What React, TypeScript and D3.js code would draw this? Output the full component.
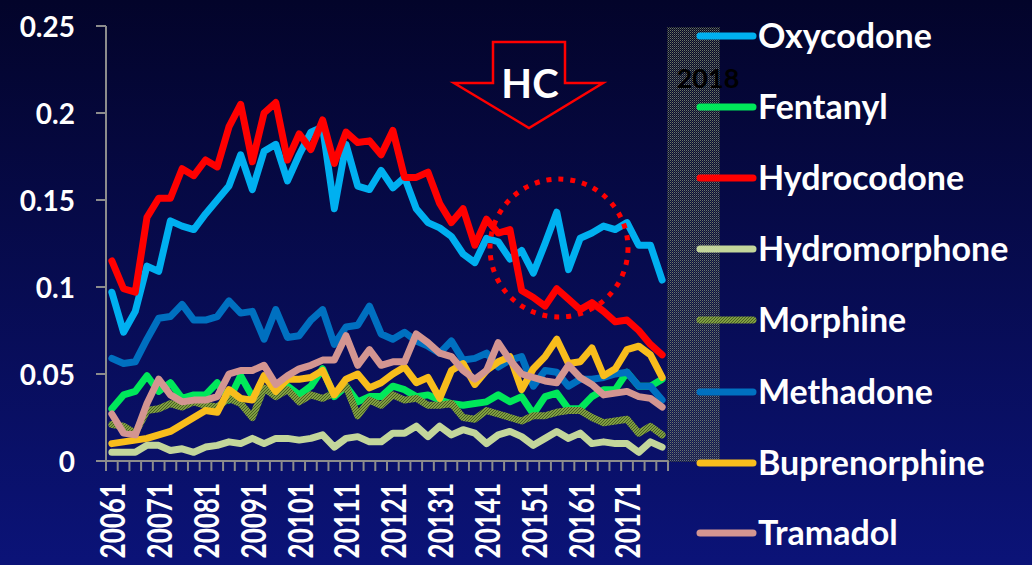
import React from "react";
import * as d3 from "d3";

const YEARS = ["2006", "2007", "2008", "2009", "2010", "2011", "2012", "2013", "2014", "2015", "2016", "2017"];
const QUARTERS = ["1", "2", "3", "4"];
const CATEGORIES: string[] = YEARS.flatMap((y) => QUARTERS.map((q) => y + q));
const Y_TICKS = [0, 0.05, 0.1, 0.15, 0.2, 0.25];
const Y_TICK_LABELS = ["0", "0.05", "0.1", "0.15", "0.2", "0.25"];

const oxycodone = [0.097, 0.074, 0.086, 0.112, 0.109, 0.138, 0.135, 0.133, 0.142, 0.150, 0.158, 0.176, 0.156, 0.178, 0.182, 0.161, 0.176, 0.189, 0.192, 0.145, 0.182, 0.158, 0.156, 0.167, 0.157, 0.163, 0.145, 0.137, 0.134, 0.129, 0.119, 0.114, 0.128, 0.126, 0.116, 0.121, 0.108, 0.125, 0.143, 0.110, 0.128, 0.131, 0.135, 0.133, 0.137, 0.124, 0.124, 0.104];
const fentanyl = [0.030, 0.038, 0.040, 0.049, 0.040, 0.045, 0.036, 0.038, 0.038, 0.045, 0.035, 0.049, 0.037, 0.041, 0.039, 0.043, 0.038, 0.043, 0.053, 0.037, 0.043, 0.034, 0.037, 0.037, 0.043, 0.041, 0.037, 0.038, 0.035, 0.033, 0.032, 0.033, 0.034, 0.038, 0.034, 0.037, 0.027, 0.037, 0.039, 0.030, 0.030, 0.037, 0.041, 0.041, 0.051, 0.043, 0.043, 0.047];
const hydrocodone = [0.115, 0.099, 0.097, 0.140, 0.151, 0.151, 0.168, 0.164, 0.173, 0.169, 0.192, 0.205, 0.172, 0.200, 0.206, 0.173, 0.188, 0.179, 0.196, 0.171, 0.189, 0.183, 0.184, 0.176, 0.190, 0.163, 0.163, 0.166, 0.148, 0.137, 0.145, 0.124, 0.139, 0.131, 0.133, 0.098, 0.094, 0.089, 0.099, 0.093, 0.087, 0.091, 0.086, 0.080, 0.081, 0.075, 0.067, 0.061];
const hydromorphone = [0.005, 0.005, 0.005, 0.009, 0.009, 0.006, 0.007, 0.005, 0.008, 0.009, 0.011, 0.010, 0.013, 0.010, 0.013, 0.013, 0.012, 0.013, 0.015, 0.008, 0.013, 0.014, 0.011, 0.011, 0.016, 0.016, 0.020, 0.014, 0.020, 0.015, 0.018, 0.016, 0.010, 0.015, 0.017, 0.014, 0.009, 0.013, 0.017, 0.013, 0.016, 0.010, 0.011, 0.010, 0.010, 0.005, 0.011, 0.008];
const morphine = [0.021, 0.020, 0.016, 0.029, 0.030, 0.033, 0.031, 0.034, 0.032, 0.031, 0.036, 0.033, 0.025, 0.042, 0.037, 0.041, 0.034, 0.038, 0.036, 0.039, 0.043, 0.026, 0.035, 0.032, 0.038, 0.035, 0.036, 0.032, 0.032, 0.033, 0.025, 0.024, 0.029, 0.027, 0.025, 0.023, 0.026, 0.026, 0.028, 0.029, 0.029, 0.025, 0.022, 0.023, 0.024, 0.016, 0.020, 0.015];
const methadone = [0.059, 0.056, 0.057, 0.070, 0.082, 0.083, 0.090, 0.081, 0.081, 0.083, 0.092, 0.085, 0.086, 0.070, 0.087, 0.071, 0.072, 0.081, 0.087, 0.067, 0.077, 0.078, 0.089, 0.073, 0.070, 0.074, 0.069, 0.066, 0.062, 0.069, 0.058, 0.059, 0.062, 0.054, 0.058, 0.060, 0.043, 0.052, 0.051, 0.043, 0.047, 0.047, 0.048, 0.050, 0.051, 0.043, 0.043, 0.035];
const buprenorphine = [0.010, 0.011, 0.012, 0.013, 0.015, 0.017, 0.021, 0.025, 0.029, 0.028, 0.041, 0.036, 0.035, 0.049, 0.040, 0.047, 0.047, 0.048, 0.052, 0.038, 0.047, 0.050, 0.042, 0.045, 0.050, 0.054, 0.045, 0.048, 0.036, 0.052, 0.056, 0.044, 0.052, 0.057, 0.060, 0.041, 0.053, 0.060, 0.070, 0.056, 0.057, 0.065, 0.049, 0.053, 0.064, 0.066, 0.061, 0.048];
const tramadol = [0.027, 0.016, 0.015, 0.033, 0.047, 0.038, 0.034, 0.035, 0.035, 0.037, 0.050, 0.052, 0.052, 0.055, 0.044, 0.049, 0.053, 0.055, 0.058, 0.058, 0.072, 0.055, 0.064, 0.055, 0.057, 0.057, 0.073, 0.068, 0.062, 0.060, 0.052, 0.047, 0.052, 0.068, 0.058, 0.050, 0.048, 0.046, 0.045, 0.055, 0.048, 0.044, 0.038, 0.039, 0.040, 0.037, 0.036, 0.031];

const SERIES_NAMES = ["Oxycodone", "Fentanyl", "Hydrocodone", "Hydromorphone", "Morphine", "Methadone", "Buprenorphine", "Tramadol"];
const SERIES_VALUES = [oxycodone, fentanyl, hydrocodone, hydromorphone, morphine, methadone, buprenorphine, tramadol];
const SERIES_COLORS = ["#00b0f0", "#00e85a", "#ff0000", "#c3d69b", "url(#morphPat)", "#0070c0", "#f8bd1c", "#d39591"];

const W = 1032;
const H = 565;
const FONT = "Lato, 'Open Sans', 'Liberation Sans', sans-serif";

export default function App() {
  const x = d3.scaleBand<string>().domain(CATEGORIES).range([106, 668]).padding(0);
  const y = d3.scaleLinear().domain([0, 0.25]).range([461, 26]);
  const bw = x.bandwidth();
  const cx = (c: string) => (x(c) as number) + bw / 2;
  const line = d3
    .line<number>()
    .x((_, i) => cx(CATEGORIES[i]))
    .y((v) => y(v));

  const boundaries = d3.range(CATEGORIES.length + 1).map((i) => 106 + i * bw);
  const legendY = [36, 107, 178, 249, 320, 392, 463, 533];

  return (
    <svg width={W} height={H} style={{ position: "absolute", left: 0, top: 0, display: "block" }}>
      <defs>
        <linearGradient id="bg" x1="0" y1="0" x2="0" y2="1">
          <stop offset="0" stopColor="#03042a" />
          <stop offset="1" stopColor="#0b1378" />
        </linearGradient>
        <pattern id="morphPat" width="3" height="3" patternUnits="userSpaceOnUse">
          <rect width="3" height="3" fill="#7f9f40" />
          <rect x="0" y="0" width="1" height="1" fill="#4a5e26" />
          <rect x="2" y="1" width="1" height="1" fill="#4a5e26" />
          <rect x="1" y="2" width="1" height="1" fill="#4a5e26" />
        </pattern>
        <pattern id="hatch" width="2" height="2" patternUnits="userSpaceOnUse">
          <rect x="0" y="0" width="1" height="1" fill="#6f7a60" />
          <rect x="1" y="1" width="1" height="1" fill="#3c4438" />
        </pattern>
      </defs>
      <rect x={0} y={0} width={W} height={H} fill="url(#bg)" />

      {/* hatched area */}
      <rect x={667} y={27} width={53} height={435} fill="url(#hatch)" />
      <text x={708} y={77} fontFamily={FONT} fontWeight={700} fontSize={27} fill="#000" textAnchor="middle" dominantBaseline="central">
        2018
      </text>

      {/* axes */}
      <line x1={106} x2={106} y1={y(0.25)} y2={y(0)} stroke="#8c8c8c" strokeWidth={2} />
      {Y_TICKS.map((t, i) => (
        <g key={"yt" + i}>
          <line x1={96} x2={106} y1={y(t)} y2={y(t)} stroke="#8c8c8c" strokeWidth={2} />
          <text x={75} y={y(t)} fontFamily={FONT} fontWeight={700} fontSize={28} fill="#fff" textAnchor="end" dominantBaseline="central">
            {Y_TICK_LABELS[i]}
          </text>
        </g>
      ))}
      <line x1={106} x2={668} y1={461} y2={461} stroke="#8c8c8c" strokeWidth={2} />
      {boundaries.map((bx, i) => (
        <line key={"xt" + i} x1={bx} x2={bx} y1={461} y2={471} stroke="#8c8c8c" strokeWidth={2} />
      ))}
      {CATEGORIES.filter((c) => c.endsWith("1")).map((c) => (
        <text
          key={"xl" + c}
          transform={`translate(${cx(c)},483) rotate(-90) scale(1,1.3)`}
          fontFamily={FONT}
          fontWeight={700}
          fontSize={26}
          fill="#fff"
          textAnchor="end"
          dominantBaseline="central"
        >
          {c}
        </text>
      ))}

      {/* series */}
      {SERIES_VALUES.map((vals, si) => (
        <path
          key={"s" + si}
          d={line(vals) || ""}
          fill="none"
          stroke={SERIES_COLORS[si]}
          strokeWidth={7}
          strokeLinejoin="round"
          strokeLinecap="round"
        />
      ))}

      {/* HC arrow */}
      <polygon
        points="493,42 565,42 565,83 603,83 529,128 454,83 493,83"
        fill="none"
        stroke="#ff0000"
        strokeWidth={2.5}
      />
      <text x={530} y={83} fontFamily={FONT} fontWeight={700} fontSize={40} fill="#fff" textAnchor="middle" dominantBaseline="central">
        HC
      </text>

      {/* dotted circle */}
      <circle cx={559} cy={248} r={69} fill="none" stroke="#ff0000" strokeWidth={5} strokeDasharray="5 7" />

      {/* legend */}
      {SERIES_NAMES.map((n, i) => (
        <g key={"lg" + i}>
          <line x1={700} x2={753} y1={legendY[i]} y2={legendY[i]} stroke={SERIES_COLORS[i]} strokeWidth={7} strokeLinecap="round" />
          <text x={758} y={legendY[i] - 2} fontFamily={FONT} fontWeight={700} fontSize={34} fill="#fff" dominantBaseline="central">
            {n}
          </text>
        </g>
      ))}
    </svg>
  );
}
